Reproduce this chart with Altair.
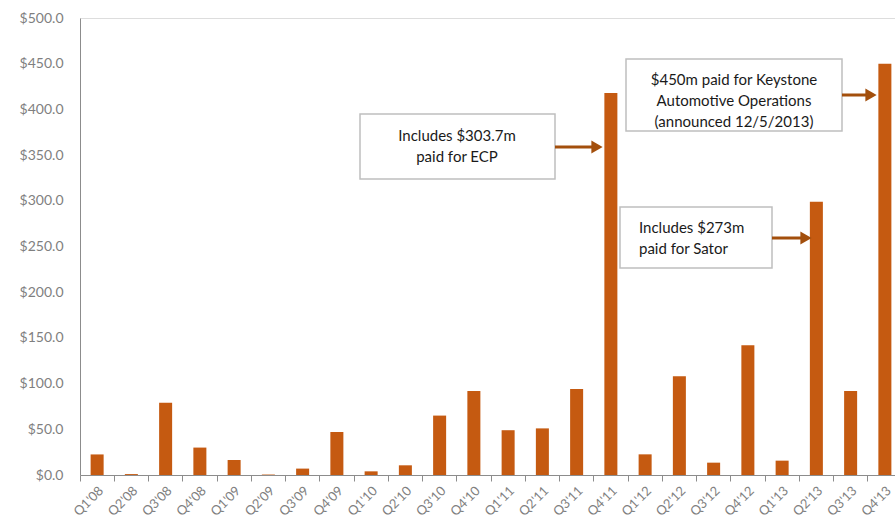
import altair as alt
import pandas as pd

quarters = ["Q1'08", "Q2'08", "Q3'08", "Q4'08", "Q1'09", "Q2'09", "Q3'09", "Q4'09",
            "Q1'10", "Q2'10", "Q3'10", "Q4'10", "Q1'11", "Q2'11", "Q3'11", "Q4'11",
            "Q1'12", "Q2'12", "Q3'12", "Q4'12", "Q1'13", "Q2'13", "Q3'13", "Q4'13"]
values = [22.5, 1.0, 79.0, 30.0, 16.4, 0.5, 7.0, 47.0,
          4.0, 10.6, 65.0, 92.0, 49.0, 51.0, 94.0, 418.0,
          22.6, 108.0, 13.5, 142.0, 15.7, 299.0, 92.0, 450.0]

ann_texts = ["Includes $303.7m\npaid for ECP",
             "$450m paid for Keystone\nAutomotive Operations\n(announced 12/5/2013)",
             "Includes $273m\npaid for Sator"]

df = pd.DataFrame({"quarter": quarters, "value": values})
dummy = pd.DataFrame({"k": [0]})

FONT = "Lato"
BAR = "#C55A11"
ARROW = "#A34F0C"
GRAY = "#7F7F7F"

x = alt.X("quarter:N", sort=quarters, title=None,
          scale=alt.Scale(paddingInner=0, paddingOuter=0, range=[0, 822]),
          axis=alt.Axis(bandPosition=0, labelOffset=0, labelAngle=-45,
                        labelColor=GRAY, labelFont=FONT, labelFontSize=13,
                        labelPadding=3, tickColor="#8C8C8C", tickSize=6,
                        domainColor="#8C8C8C", grid=False))
y = alt.Y("value:Q", title=None,
          scale=alt.Scale(domain=[0, 500], nice=False),
          axis=alt.Axis(values=list(range(0, 501, 50)), format="$.1f",
                        labelColor=GRAY, labelFont=FONT, labelFontSize=14,
                        labelPadding=17, ticks=False, grid=False,
                        domainColor="#8C8C8C"))

bars = alt.Chart(df).mark_bar(color=BAR, width=alt.RelativeBandSize(0.38)).encode(x=x, y=y)


def box(x1, x2, y1, y2):
    return alt.Chart(dummy).mark_rect(fill="white", stroke="#BFBFBF", strokeWidth=1.5).encode(
        x=alt.value(x1), x2=alt.value(x2), y=alt.value(y1), y2=alt.value(y2))


def label(txt, xp, yp, align="center"):
    return alt.Chart(dummy).mark_text(font=FONT, fontSize=15, color="#1A1A1A", lineBreak="\n",
                                      lineHeight=21, align=align, baseline="middle").encode(
        x=alt.value(xp), y=alt.value(yp), text=alt.value(txt))


def arrow(x1, x2, yp):
    line = alt.Chart(dummy).mark_rule(color=ARROW, strokeWidth=3).encode(
        x=alt.value(x1), x2=alt.value(x2 - 10), y=alt.value(yp))
    head = alt.Chart(dummy).mark_point(shape="triangle-right", filled=True, color=ARROW,
                                       opacity=1, size=170).encode(
        x=alt.value(x2 - 7), y=alt.value(yp))
    return line + head


layers = [bars,
          box(280, 475, 96, 161), label(ann_texts[0], 377, 118), arrow(475, 524, 129),
          box(546, 762, 41, 113), label(ann_texts[1], 654, 62), arrow(762, 798, 77),
          box(540, 692, 189, 250), label(ann_texts[2], 559, 210, align="left"),
          arrow(692, 733, 220)]

chart = alt.layer(*layers).properties(
    width=815, height=457,
    autosize=alt.AutoSizeParams(type="none"),
    padding={"left": 80, "top": 18, "right": 0, "bottom": 44},
).configure_view(stroke=None).configure(background="white")

chart.save("out.html", embed_options={"renderer": "svg", "actions": False})
